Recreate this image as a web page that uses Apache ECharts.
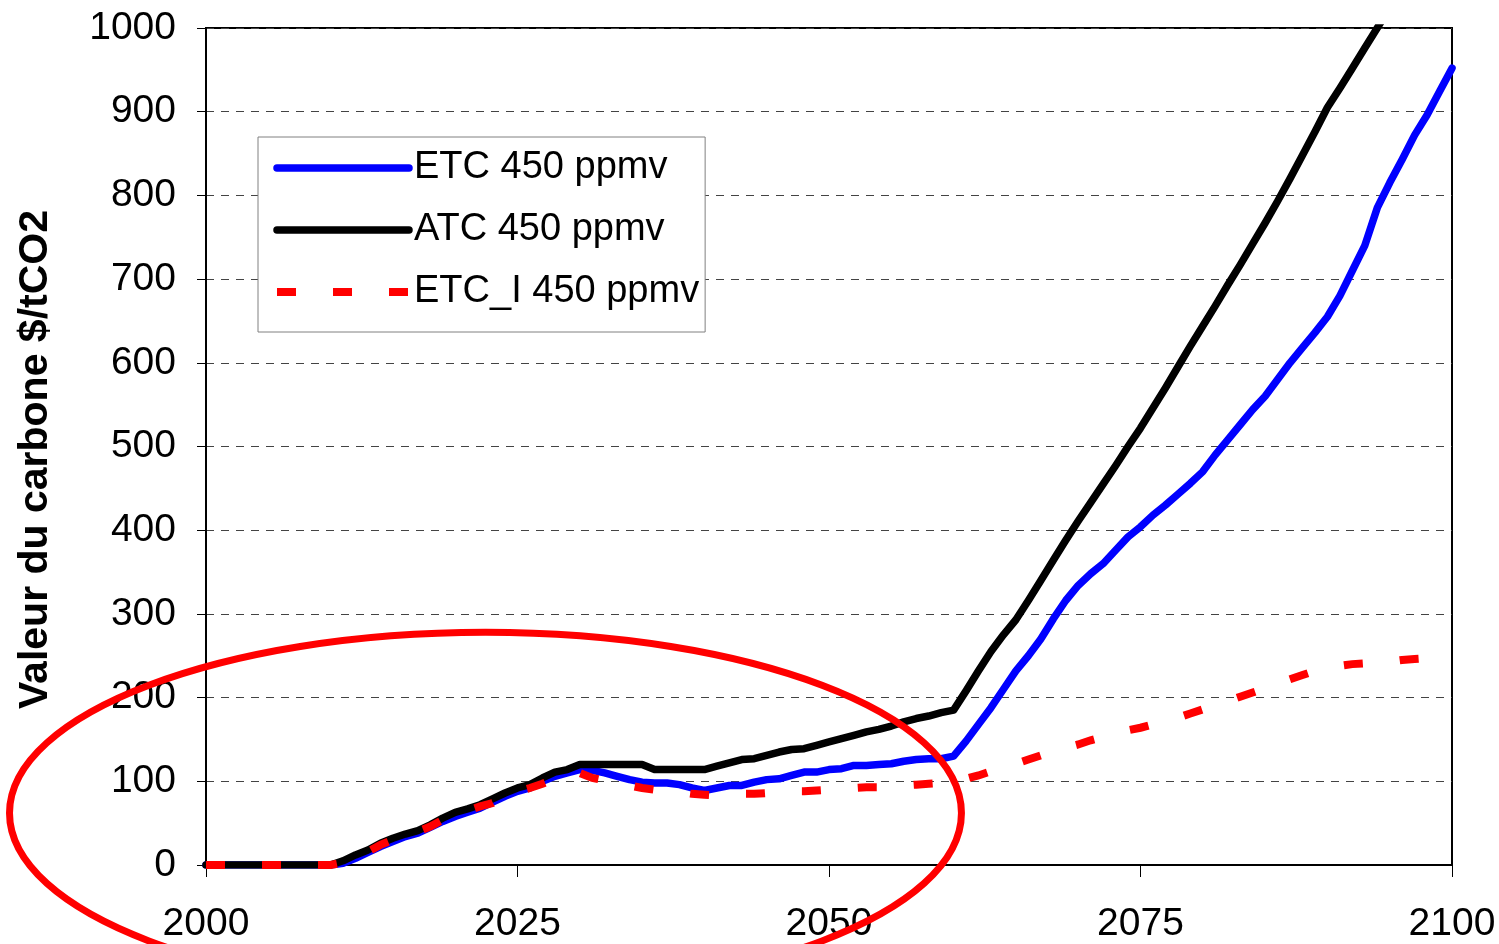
<!DOCTYPE html>
<html><head><meta charset="utf-8">
<script src="https://cdn.jsdelivr.net/npm/echarts@6/dist/echarts.min.js"></script>
<style>html,body{margin:0;padding:0;background:#fff}#c{width:1499px;height:944px}</style>
</head><body><div id="c"></div>
<script>
const YEARS = [2000,2001,2002,2003,2004,2005,2006,2007,2008,2009,
  2010,2011,2012,2013,2014,2015,2016,2017,2018,2019,
  2020,2021,2022,2023,2024,2025,2026,2027,2028,2029,
  2030,2031,2032,2033,2034,2035,2036,2037,2038,2039,
  2040,2041,2042,2043,2044,2045,2046,2047,2048,2049,
  2050,2051,2052,2053,2054,2055,2056,2057,2058,2059,
  2060,2061,2062,2063,2064,2065,2066,2067,2068,2069,
  2070,2071,2072,2073,2074,2075,2076,2077,2078,2079,
  2080,2081,2082,2083,2084,2085,2086,2087,2088,2089,
  2090,2091,2092,2093,2094,2095,2096,2097,2098,2099,2100];

const ETC = [0,0,0,0,0,0,0,0,0,0,
  0,2,8,15,22,28,34,38,45,52,
  58,63,68,75,82,88,92,100,106,110,
  114,113,110,106,102,99,98,98,96,92,
  89,92,95,95,99,102,103,107,111,111,
  114,115,119,119,120,121,124,126,127,127,
  130,148,168,188,210,232,250,270,294,316,
  334,348,360,376,392,404,418,430,443,456,
  470,490,508,526,544,560,580,600,618,636,
  655,680,710,740,785,815,843,872,896,924,952];

const ATC = [0,0,0,0,0,0,0,0,0,0,
  0,5,12,18,26,32,37,41,48,56,
  63,67,72,79,86,92,96,104,111,114,
  120,120,120,120,120,120,114,114,114,114,
  114,118,122,126,127,131,135,138,139,143,
  147,151,155,159,162,166,171,175,178,182,
  185,208,232,255,275,293,316,340,364,388,
  411,433,455,477,500,522,546,570,595,620,
  644,668,693,717,742,767,793,820,848,876,
  905,928,952,976,1000,1024,1048,1072,1096,1120,1144];

const ETC_I = [0,0,0,0,0,0,0,0,0,0,
  0,3,10,16,24,30,35,40,46,54,
  60,65,70,74,82,88,92,97,103,108,
  110,104,101,98,95,92,90,88,87,85,
  84,83,84,85,85,86,87,88,88,89,
  90,91,92,93,93,94,95,96,97,98,
  99,103,107,112,117,121,126,131,135,140,
  144,149,153,157,161,164,168,171,176,181,
  186,191,196,201,206,211,217,222,227,232,
  236,238,240,241,242,243,245,246,247,248,250];

const SERIES_NAMES = ['ETC 450 ppmv', 'ATC 450 ppmv', 'ETC_I 450 ppmv'];
const Y_TITLE = 'Valeur du carbone $/tCO2';

// annotation ellipse, in data units
const ELLIPSE_CENTER = [2022.43, 62];
const ELLIPSE_HALF = [38.2, 216];

const FONT = 'Liberation Sans, Arial, sans-serif';
const chart = echarts.init(document.getElementById('c'), null, {renderer: 'canvas'});

function pairs(vals) { return YEARS.map((y, i) => [y, vals[i]]); }
const plain = v => String(v);

chart.setOption({
  animation: false,
  backgroundColor: '#fff',
  textStyle: {fontFamily: FONT},
  grid: {left: 206, right: 47, top: 28, bottom: 77, show: true, borderColor: '#000', borderWidth: 2},
  legend: {
    orient: 'vertical', left: 258, top: 137,
    backgroundColor: '#fff', borderColor: '#808080', borderWidth: 1,
    padding: [11, 6, 20, 15],
    itemWidth: 132, itemHeight: 14, itemGap: 22,
    selectedMode: false,
    textStyle: {fontSize: 38, color: '#000', lineHeight: 40, fontFamily: FONT},
    lineStyle: {width: 'inherit'},
    itemStyle: {opacity: 0},
    data: SERIES_NAMES
  },
  xAxis: {
    type: 'value', min: 2000, max: 2100, interval: 25,
    axisLine: {show: true, lineStyle: {color: '#000', width: 2}},
    axisTick: {show: true, length: 12, lineStyle: {color: '#000', width: 1}},
    axisLabel: {fontSize: 39, color: '#000', margin: 40, fontFamily: FONT, formatter: plain},
    splitLine: {show: false}
  },
  yAxis: {
    type: 'value', min: 0, max: 1000, interval: 100,
    name: Y_TITLE, nameLocation: 'middle', nameRotate: 90, nameGap: 150,
    nameTextStyle: {fontSize: 41, fontWeight: 'bold', color: '#000', fontFamily: FONT, padding: [0, 26, 0, 0]},
    axisLine: {show: true, lineStyle: {color: '#000', width: 2}},
    axisTick: {show: true, length: 9, lineStyle: {color: '#000', width: 1}},
    axisLabel: {fontSize: 39, color: '#000', margin: 30, fontFamily: FONT, formatter: plain},
    splitLine: {show: true, lineStyle: {color: '#444', width: 1, type: [8, 7]}}
  },
  series: [
    {name: SERIES_NAMES[0], type: 'line', data: pairs(ETC), symbol: 'none', showSymbol: false,
     lineStyle: {color: '#0000ff', width: 7.5, cap: 'round', join: 'round'}, itemStyle: {color: '#0000ff'}},
    {name: SERIES_NAMES[1], type: 'line', data: pairs(ATC), symbol: 'none', showSymbol: false,
     lineStyle: {color: '#000000', width: 7.5, cap: 'round', join: 'round'}, itemStyle: {color: '#000000'}},
    {name: SERIES_NAMES[2], type: 'line', data: pairs(ETC_I), symbol: 'none', showSymbol: false,
     lineStyle: {color: '#ff0000', width: 8, type: [19, 37], cap: 'butt', join: 'miter'}, itemStyle: {color: '#ff0000'}}
  ]
});

const c = chart.convertToPixel({gridIndex: 0}, ELLIPSE_CENTER);
const e = chart.convertToPixel({gridIndex: 0}, [ELLIPSE_CENTER[0] + ELLIPSE_HALF[0], ELLIPSE_CENTER[1] + ELLIPSE_HALF[1]]);
chart.setOption({
  graphic: [{
    type: 'ellipse', silent: true, z: 100,
    shape: {cx: c[0], cy: c[1], rx: e[0] - c[0], ry: c[1] - e[1]},
    style: {fill: 'rgba(0,0,0,0)', stroke: '#ff0000', lineWidth: 7}
  }]
});
</script>
</body></html>
